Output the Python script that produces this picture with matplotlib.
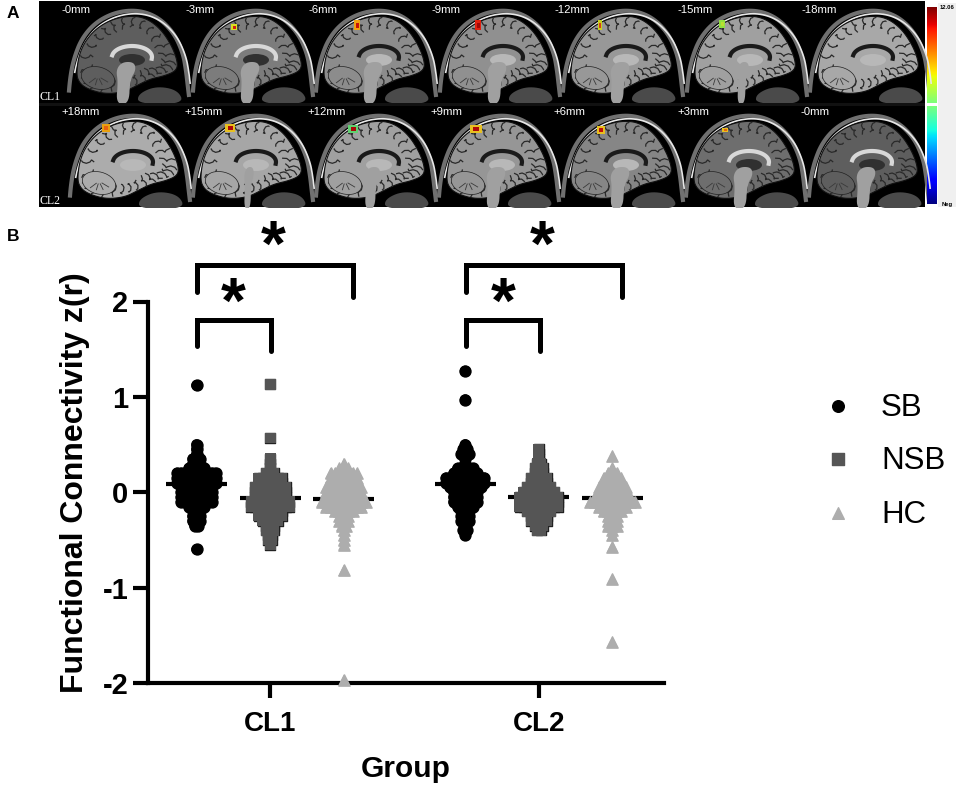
import numpy as np
import matplotlib
matplotlib.use('Agg')
import matplotlib.pyplot as plt
from matplotlib.patches import Rectangle, Polygon, Ellipse

plt.rcParams['font.family'] = ['Liberation Sans', 'DejaVu Sans']

# values: z(r) level and how many subjects sit at it
sb_cl1_vals = [1.12, 0.5, 0.45, 0.4, 0.35, 0.3, 0.25, 0.2, 0.15, 0.1, 0.05, 0.0, -0.05, -0.1, -0.15, -0.2, -0.25, -0.3, -0.35, -0.6]
sb_cl1_n = [1, 1, 1, 1, 3, 3, 5, 11, 11, 11, 9, 9, 9, 9, 5, 3, 3, 3, 2, 1]
nsb_cl1_vals = [1.13, 0.57, 0.35, 0.3, 0.25, 0.2, 0.15, 0.1, 0.05, 0.0, -0.05, -0.1, -0.15, -0.2, -0.25, -0.3, -0.35, -0.4, -0.45, -0.5, -0.55]
nsb_cl1_n = [1, 1, 1, 1, 1, 3, 7, 7, 9, 9, 9, 11, 11, 7, 7, 5, 3, 3, 2, 2, 1]
hc_cl1_vals = [0.3, 0.25, 0.2, 0.15, 0.1, 0.05, 0.0, -0.05, -0.1, -0.15, -0.2, -0.25, -0.3, -0.35, -0.4, -0.45, -0.5, -0.55, -0.82, -1.97]
hc_cl1_n = [1, 3, 7, 7, 7, 9, 9, 9, 11, 9, 5, 3, 3, 2, 1, 1, 1, 1, 1, 1]
sb_cl2_vals = [1.27, 0.97, 0.5, 0.45, 0.4, 0.35, 0.3, 0.25, 0.2, 0.15, 0.1, 0.05, 0.0, -0.05, -0.1, -0.15, -0.2, -0.25, -0.3, -0.35, -0.4, -0.45]
sb_cl2_n = [1, 1, 1, 2, 3, 1, 1, 5, 7, 11, 11, 9, 7, 7, 7, 5, 3, 3, 3, 1, 2, 1]
nsb_cl2_vals = [0.45, 0.4, 0.35, 0.3, 0.25, 0.2, 0.15, 0.1, 0.05, 0.0, -0.05, -0.1, -0.15, -0.2, -0.25, -0.3, -0.35, -0.4]
nsb_cl2_n = [1, 1, 1, 2, 3, 3, 5, 5, 7, 9, 11, 11, 11, 7, 5, 5, 3, 2]
hc_cl2_vals = [0.38, 0.25, 0.2, 0.15, 0.1, 0.05, 0.0, -0.05, -0.1, -0.15, -0.2, -0.25, -0.3, -0.35, -0.4, -0.45, -0.57, -0.91, -1.57]
hc_cl2_n = [1, 1, 3, 5, 5, 7, 7, 9, 11, 7, 5, 3, 3, 3, 1, 1, 1, 1, 1]

means = [0.09, -0.06, -0.07, 0.09, -0.05, -0.06]
groups = ['CL1', 'CL2']
y_ticks = [-2, -1, 0, 1, 2]
legend_names = ['SB', 'NSB', 'HC']

# slice labels and activation spots of panel A
row1_labels = ['-0mm', '-3mm', '-6mm', '-9mm', '-12mm', '-15mm', '-18mm']
row2_labels = ['+18mm', '+15mm', '+12mm', '+9mm', '+6mm', '+3mm', '-0mm']
row1_heads = [66, 190, 313, 437, 560, 684, 807]
row2_heads = [67, 190, 313, 436, 560, 683, 806]
row1_grey = ['#5e5e5e', '#7c7c7c', '#8c8c8c', '#909090', '#989898', '#a0a0a0', '#a8a8a8']
row2_grey = ['#acacac', '#a6a6a6', '#a0a0a0', '#969696', '#868686', '#6e6e6e', '#5e5e5e']
row1_stem = [1, 1, 1, 1, 1, 0.6, 0]
row2_stem = [0, 0.5, 0.8, 1, 1, 1, 1]
row1_spots = [None, (234, 27, 3, 3, '#d8e020', '#d02010'), (357, 25, 3, 5, '#f0a010', '#c81008'),
              (478, 25, 3, 5, '#e02010', '#a00808'), (600, 25, 2, 5, '#c8d020', '#d84010'),
              (722, 24, 3, 4, '#90e040', '#b8e030'), None]
row2_spots = [(106, 128, 4, 4, '#e8a010', '#e86010'), (230, 128, 5, 4, '#e8c020', '#b00808'),
              (353, 129, 5, 4, '#60d070', '#a80808'), (476, 129, 6, 4, '#e8c020', '#b00808'),
              (601, 130, 4, 4, '#e8c020', '#c01008'), (725, 130, 3, 2, '#e8c020', '#e86010'), None]

scalp = [(2, 96), (4, 70), (8, 50), (16, 30), (30, 14), (50, 4), (72, 2), (92, 9), (108, 25), (117, 45), (120, 62), (122, 80), (124, 96)]
brain = [(10, 66), (14, 42), (26, 24), (42, 13), (60, 8), (78, 9), (94, 20), (106, 38), (112, 55), (110, 63),
         (98, 68), (84, 71), (70, 78), (58, 84), (40, 86), (24, 82), (14, 76)]
stem = [(56, 54), (68, 54), (70, 62), (64, 72), (63, 96), (50, 96), (52, 74), (50, 62)]
face = [(72, 86), (90, 78), (112, 82), (118, 96), (72, 96)]


def smooth(pts, closed=True, rounds=3):
    pts = np.array(pts, dtype=float)
    for _ in range(rounds):
        nxt = np.roll(pts, -1, axis=0)
        q = 0.75 * pts + 0.25 * nxt
        r = 0.25 * pts + 0.75 * nxt
        if not closed:
            q, r = q[:-1], r[:-1]
        pts = np.column_stack([q, r]).reshape(-1, 2)
    return pts


def draw_head(ax, x0, y0, grey, label_xy, label, spot, stem_w):
    dark = grey < '#800000'
    sc = smooth(scalp, closed=False) + (x0, y0)
    ax.plot(sc[:, 0], sc[:, 1], color='#707070', lw=3.0, solid_capstyle='butt', zorder=2)
    sc2 = smooth([(p[0] + 3, p[1] + 3) for p in scalp[1:-1]], closed=False) + (x0, y0)
    ax.plot(sc2[:, 0], sc2[:, 1], color='#e8e8e8', lw=1.2, zorder=3)
    ax.add_patch(Polygon(smooth(face) + (x0, y0), fc='#4a4a4a', ec='none', zorder=2))
    outline = smooth(brain) + (x0, y0)
    ax.add_patch(Polygon(outline, fc=grey, ec='#111111', lw=0.8, zorder=3))
    # sulci folded in from the cortex edge
    cx, cy = x0 + 60, y0 + 44
    for i in range(2, len(outline) - 2, 5):
        px, py = outline[i]
        t = np.linspace(0.05, 0.32, 7)
        sx = px + (cx - px) * t + 1.5 * np.sin(t * 30 + i)
        sy = py + (cy - py) * t + 1.5 * np.cos(t * 30 + i)
        ax.plot(sx, sy, color='#2a2a2a', lw=0.9, zorder=4)
    # cerebellum
    ax.add_patch(Ellipse((x0 + 32, y0 + 70), 34, 22, angle=15, fc=grey, ec='#222222', lw=0.5, zorder=5))
    for a in (-50, -20, 10, 40):
        t = np.radians(a)
        ax.plot([x0 + 32 + 4 * np.cos(t + 1.6), x0 + 32 + 13 * np.cos(t + 1.6)],
                [y0 + 68 + 3 * np.sin(t + 1.6), y0 + 68 + 9 * np.sin(t + 1.6)],
                color='#3a3a3a', lw=0.6, zorder=6)
    # ventricle and callosum
    a = np.linspace(np.pi * 1.05, np.pi * 2.05, 30)
    ax.plot(x0 + 66 + 20 * np.cos(a), y0 + 49 + 11 * np.sin(a), color='#d8d8d8' if dark else '#1a1a1a',
            lw=3.0, zorder=6)
    ax.add_patch(Ellipse((x0 + 66, y0 + 52), 26, 12, fc='#303030' if dark else '#b8b8b8', ec='none', zorder=5))
    if stem_w > 0:
        st = smooth(stem)
        st[:, 0] = 58 + (st[:, 0] - 58) * stem_w
        ax.add_patch(Polygon(st + (x0, y0), fc='#a0a0a0', ec='none', zorder=6))
    if spot is not None:
        sx, sy, w, h, outer, inner = spot
        ax.add_patch(Rectangle((sx - w, sy - h), 2 * w, 2 * h, fc=outer, ec='none', zorder=8))
        ax.add_patch(Rectangle((sx - w / 2, sy - h / 2), w, h, fc=inner, ec='none', zorder=9))
    ax.text(label_xy[0], label_xy[1], label, color='white', fontsize=8.2, va='center', ha='left', zorder=10)


fig = plt.figure(figsize=(9.57, 7.89), dpi=100)
page = fig.add_axes([0, 0, 1, 1])
page.set_axis_off()

# panel A
page.add_patch(Rectangle((39, 1), 886, 206, fc='black', ec='none', zorder=1))
for i in range(7):
    draw_head(page, row1_heads[i], 8, row1_grey[i], (62 + i * 123.2, 10), row1_labels[i], row1_spots[i], row1_stem[i])
    draw_head(page, row2_heads[i], 113, row2_grey[i], (61 + i * 123.2, 112), row2_labels[i], row2_spots[i], row2_stem[i])
page.add_patch(Rectangle((39, 103), 886, 3, fc='#111111', ec='none', zorder=7))
page.add_patch(Rectangle((0, 207.5), 957, 30, fc='white', ec='none', zorder=7))
page.text(40, 97, 'CL1', color='white', family='Liberation Serif', fontsize=8.5, va='center', zorder=10)
page.text(40, 201, 'CL2', color='white', family='Liberation Serif', fontsize=8.5, va='center', zorder=10)

page.add_patch(Rectangle((938, 3), 18, 204, fc='#f0f0f0', ec='none', zorder=1))
ramp = np.linspace(1, 0, 256)[:, None]
page.imshow(ramp[:128], cmap='jet', vmin=0, vmax=1, extent=(927, 937, 103, 7), aspect='auto', zorder=2)
page.imshow(ramp[128:], cmap='jet', vmin=0, vmax=1, extent=(927, 937, 204, 106), aspect='auto', zorder=2)
page.text(947, 7, '12.06', fontsize=4.2, fontweight='bold', ha='center', va='center', zorder=3)
page.text(947, 204, 'Neg', fontsize=4.2, fontweight='bold', ha='center', va='center', zorder=3)
page.text(7, 13, 'A', fontsize=12.5, fontweight='bold', va='center', zorder=10)
page.text(7, 236, 'B', fontsize=12.5, fontweight='bold', va='center', zorder=10)
page.set_xlim(0, 957)
page.set_ylim(789, 0)

# panel B
ax = fig.add_axes([148 / 957, 1 - 683 / 789, (664 - 148) / 957, (683 - 301.5) / 789])
ax.patch.set_alpha(0)
ax.set_xlim(-0.66, 6.35)
ax.set_ylim(-2, 2)


def swarm(pos, vals, counts, marker, face_col, edge_col, size, step=0.052):
    xs, ys = [], []
    for v, n in zip(vals, counts):
        for j in range(n):
            xs.append(pos + (j - (n - 1) / 2) * step)
            ys.append(v)
    # outline pass first, so only the outer edge of the pile stays visible
    ax.scatter(xs, ys, marker=marker, s=size, facecolor=edge_col, edgecolor=edge_col, linewidth=1.0,
               zorder=3, clip_on=False)
    ax.scatter(xs, ys, marker=marker, s=size, facecolor=face_col, edgecolor='none', zorder=3.1, clip_on=False)


positions = [0, 1, 2, 3.65, 4.65, 5.65]
for p, m in zip(positions, means):
    ax.plot([p - 0.415, p + 0.415], [m, m], color='black', lw=3, solid_capstyle='butt', zorder=2)

swarm(positions[0], sb_cl1_vals, sb_cl1_n, 'o', 'black', 'black', 62)
swarm(positions[1], nsb_cl1_vals, nsb_cl1_n, 's', '#555555', '#222222', 60)
swarm(positions[2], hc_cl1_vals, hc_cl1_n, '^', '#adadad', '#adadad', 66, step=0.06)
swarm(positions[3], sb_cl2_vals, sb_cl2_n, 'o', 'black', 'black', 62)
swarm(positions[4], nsb_cl2_vals, nsb_cl2_n, 's', '#555555', '#222222', 60)
swarm(positions[5], hc_cl2_vals, hc_cl2_n, '^', '#adadad', '#adadad', 66, step=0.06)

for s in ('top', 'right'):
    ax.spines[s].set_visible(False)
for s in ('left', 'bottom'):
    ax.spines[s].set_linewidth(3)
ax.set_yticks(y_ticks)
ax.set_yticklabels([str(t) for t in y_ticks], fontsize=21, fontweight='bold')
ax.set_xticks([1, 4.65])
ax.set_xticklabels(groups, fontsize=20, fontweight='bold')
ax.tick_params(axis='y', length=11, width=3, pad=3)
ax.tick_params(axis='x', length=11, width=3, pad=9)
ax.set_xlabel('Group', fontsize=21.5, fontweight='bold', labelpad=13)
ax.set_ylabel('Functional Connectivity z(r)', fontsize=23, fontweight='bold', labelpad=9, y=0.525)


def bracket(x1, x2, y_top, y1, y2):
    ax.plot([x1, x1, x2, x2], [y1, y_top, y_top, y2], color='black', lw=3.6, clip_on=False,
            solid_joinstyle='miter', solid_capstyle='round', zorder=4)


for off in (0, 3.66):
    bracket(off, off + 1.01, 1.81, 1.53, 1.48)
    bracket(off, off + 2.12, 2.38, 2.1, 2.05)
    ax.text(off + 0.5, 1.96, '*', fontsize=46, fontweight='bold', ha='center', va='center', clip_on=False)
    ax.text(off + 1.04, 2.55, '*', fontsize=46, fontweight='bold', ha='center', va='center', clip_on=False)

# legend drawn by hand so it sits where the original has it
legend_y = [406, 459, 513]
legend_mark = ['o', 's', '^']
legend_face = ['black', '#555555', '#adadad']
for name, ly, mk, fc in zip(legend_names, legend_y, legend_mark, legend_face):
    page.scatter([838], [ly], marker=mk, s=70, facecolor=fc, edgecolor=fc, zorder=3)
    page.text(881, ly + 2, name, fontsize=22.5, va='center', ha='left')
page.set_xlim(0, 957)
page.set_ylim(789, 0)

fig.savefig('out.png', dpi=100)
